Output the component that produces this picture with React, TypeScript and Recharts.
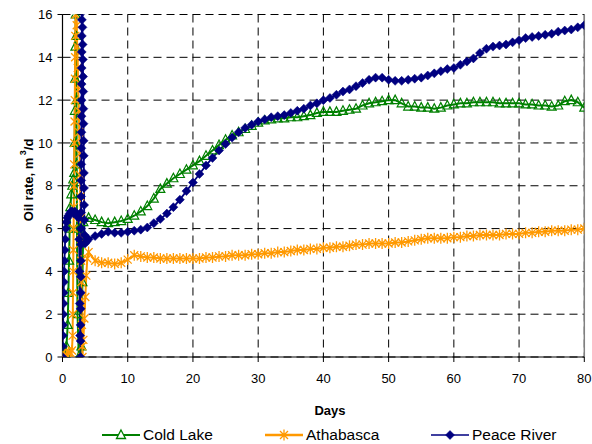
import React from "react";
import { LineChart, Line, XAxis, YAxis, CartesianGrid, Legend, ReferenceLine, Label } from "recharts";

// start-up part (first ~4 days)
const coldLakeEarlyDays = [0, 0.2, 0.4, 0.6, 0.8, 0.9, 1.0, 1.1, 1.2, 1.35, 1.5, 1.65, 1.8, 1.86, 1.9, 1.94, 1.98, 2.02, 2.06, 2.1, 2.14, 2.18, 2.22, 2.3, 2.5, 2.7, 2.9, 3.05, 3.2];
const coldLakeEarlyRates = [0, 0, 0.2, 0.5, 1.5, 3.0, 4.5, 6.0, 7.0, 7.6, 8.0, 8.3, 8.6, 10, 11.5, 13, 14.5, 16, 17.5, 15, 12, 9, 6, 2, 0, 0, 0.5, 3.5, 6.3];

const athabascaEarlyDays = [0, 0.3, 0.6, 0.9, 1.2, 1.45, 1.55, 1.58, 1.61, 1.64, 1.67, 1.7, 1.73, 1.76, 1.79, 1.82, 1.85, 1.88, 1.91, 1.94, 1.97, 2.0, 2.03, 2.1, 2.18, 2.26, 2.34, 2.42, 2.5, 2.56, 2.62, 2.68, 2.73, 2.78, 2.82, 2.86, 2.9, 2.94, 2.98, 3.02, 3.06, 3.2, 3.35, 3.5, 3.65, 3.8];
const athabascaEarlyRates = [0, 0.1, 0.1, 0.2, 0.2, 0.3, 1, 2, 3, 4, 5, 6, 7, 8, 9, 10, 11, 12, 13, 14, 15, 16, 17, 16.5, 15.5, 14.5, 13.5, 12.5, 11.5, 10.5, 9.5, 8.5, 7.5, 6.5, 5.5, 4.5, 3.5, 2.5, 1.5, 0.5, 0, 0.8, 1.8, 2.8, 3.8, 4.6];

const peaceRiverEarlyDays = [0, 0.03, 0.06, 0.09, 0.12, 0.15, 0.18, 0.21, 0.25, 0.3, 0.35, 0.42, 0.5, 0.6, 0.75, 0.9, 1.1, 1.3, 1.5, 1.7, 1.9, 2.1, 2.3, 2.45, 2.55, 2.6, 2.65, 2.7, 2.75,
  2.77, 2.78, 2.79, 2.8, 2.81, 2.82, 2.83, 2.84, 2.85, 2.86, 2.87, 2.88, 2.89, 2.9, 2.91, 2.92, 2.93, 2.94, 2.95, 2.96, 2.97, 2.98, 3.0,
  3.03, 3.06, 3.09, 3.12, 3.15, 3.18, 3.2, 3.22, 3.24, 3.26, 3.28, 3.3, 3.32, 3.34, 3.38, 3.45, 3.7];
const peaceRiverEarlyRates = [0, 0.5, 1, 1.5, 2, 2.5, 3, 3.5, 4, 4.5, 5, 5.5, 6, 6.3, 6.5, 6.6, 6.7, 6.8, 6.8, 6.7, 6.8, 6.7, 6.6, 6.5, 5.5, 4, 2.5, 1, 0,
  0.75, 1.5, 2.25, 3, 3.75, 4.5, 5.25, 6, 6.75, 7.5, 8.25, 9, 9.75, 10.5, 11.25, 12, 12.75, 13.5, 14.25, 15, 15.75, 16.5, 17.5,
  16.1, 15.4, 14.6, 13.9, 13.1, 12.4, 11.6, 10.9, 10.1, 9.4, 8.6, 7.9, 7.1, 6.4, 5.7, 5.3, 5.4];

// daily values, day 4 to day 80
const days = [4, 5, 6, 7, 8, 9, 10, 11, 12, 13, 14, 15, 16, 17, 18, 19, 20, 21, 22, 23, 24, 25, 26, 27, 28, 29, 30, 31, 32, 33,
  34, 35, 36, 37, 38, 39, 40, 41, 42, 43, 44, 45, 46, 47, 48, 49, 50, 51, 52, 53, 54, 55, 56, 57, 58, 59, 60, 61, 62, 63,
  64, 65, 66, 67, 68, 69, 70, 71, 72, 73, 74, 75, 76, 77, 78, 79, 80];

const coldLakeRates = [6.5, 6.4, 6.3, 6.25, 6.3, 6.35, 6.45, 6.6, 6.8, 7.05,
  7.4, 7.85, 8.1, 8.35, 8.55, 8.75, 8.95, 9.15, 9.4, 9.65,
  9.9, 10.15, 10.35, 10.5, 10.65, 10.8, 10.95, 11.05, 11.1, 11.15,
  11.15, 11.2, 11.2, 11.25, 11.3, 11.4, 11.45, 11.45, 11.45, 11.5,
  11.55, 11.6, 11.75, 11.85, 11.9, 11.95, 12.0, 12.0, 11.85, 11.7,
  11.7, 11.65, 11.65, 11.6, 11.65, 11.75, 11.8, 11.85, 11.85, 11.9,
  11.9, 11.9, 11.9, 11.85, 11.85, 11.85, 11.85, 11.8, 11.8, 11.75,
  11.75, 11.7, 11.75, 11.95, 12.0, 11.9, 11.65];

const athabascaRates = [4.9, 4.5, 4.4, 4.4, 4.35, 4.4, 4.55, 4.75, 4.7, 4.65,
  4.65, 4.6, 4.6, 4.6, 4.6, 4.6, 4.6, 4.6, 4.65, 4.65,
  4.7, 4.7, 4.75, 4.75, 4.75, 4.8, 4.8, 4.85, 4.85, 4.9,
  4.9, 4.95, 5.0, 5.0, 5.05, 5.05, 5.1, 5.1, 5.15, 5.15,
  5.2, 5.25, 5.25, 5.3, 5.3, 5.3, 5.3, 5.35, 5.35, 5.4,
  5.45, 5.5, 5.55, 5.55, 5.55, 5.55, 5.6, 5.6, 5.65, 5.65,
  5.7, 5.7, 5.7, 5.7, 5.75, 5.75, 5.75, 5.8, 5.8, 5.85,
  5.85, 5.9, 5.9, 5.9, 5.95, 5.95, 6.0];

const peaceRiverRates = [5.5, 5.65, 5.75, 5.85, 5.8, 5.8, 5.85, 5.9, 5.95, 6.05,
  6.25, 6.45, 6.7, 7.0, 7.35, 7.75, 8.15, 8.55, 8.95, 9.3,
  9.65, 9.95, 10.25, 10.5, 10.7, 10.85, 11.0, 11.1, 11.2, 11.25,
  11.3, 11.4, 11.5, 11.6, 11.75, 11.85, 12.0, 12.1, 12.25, 12.4,
  12.5, 12.65, 12.8, 12.95, 13.05, 13.05, 12.95, 12.9, 12.9, 12.95,
  13.0, 13.05, 13.15, 13.25, 13.35, 13.45, 13.5, 13.65, 13.8, 13.95,
  14.2, 14.4, 14.5, 14.55, 14.6, 14.7, 14.8, 14.9, 14.95, 15.0,
  15.05, 15.1, 15.2, 15.25, 15.3, 15.4, 15.5];

const xTicks = [0, 10, 20, 30, 40, 50, 60, 70, 80];
const yTicks = [0, 2, 4, 6, 8, 10, 12, 14, 16];

const GREEN = "#008000";
const ORANGE = "#FF9900";
const NAVY = "#000080";
const FONT = "'Liberation Sans', Arial, sans-serif";

const toPoints = (d: number[], r: number[]) => d.map((day, i) => ({ day, rate: r[i] }));

const coldLakeData = [...toPoints(coldLakeEarlyDays, coldLakeEarlyRates), ...toPoints(days, coldLakeRates)];
const athabascaData = [...toPoints(athabascaEarlyDays, athabascaEarlyRates), ...toPoints(days, athabascaRates)];
const peaceRiverData = [...toPoints(peaceRiverEarlyDays, peaceRiverEarlyRates), ...toPoints(days, peaceRiverRates)];

const trianglePath = (x: number, y: number) => `M${x},${y - 5}L${x + 4.5},${y + 3.5}L${x - 4.5},${y + 3.5}Z`;
const starPath = (x: number, y: number) =>
  `M${x - 4},${y - 4}L${x + 4},${y + 4}M${x + 4},${y - 4}L${x - 4},${y + 4}M${x},${y - 5.5}L${x},${y + 5.5}`;
const diamondPath = (x: number, y: number) => `M${x},${y - 4.5}L${x + 4.5},${y}L${x},${y + 4.5}L${x - 4.5},${y}Z`;

const renderTriangle = (props: any) => {
  const { cx, cy, index } = props;
  if (cx == null || cy == null) return <g key={`t-${index}`} />;
  return <path key={`t-${index}`} d={trianglePath(cx, cy)} fill="none" stroke={GREEN} strokeWidth={1.2} />;
};

const renderStar = (props: any) => {
  const { cx, cy, index } = props;
  if (cx == null || cy == null) return <g key={`s-${index}`} />;
  return <path key={`s-${index}`} d={starPath(cx, cy)} fill="none" stroke={ORANGE} strokeWidth={1.3} />;
};

const renderDiamond = (props: any) => {
  const { cx, cy, index } = props;
  if (cx == null || cy == null) return <g key={`d-${index}`} />;
  return <path key={`d-${index}`} d={diamondPath(cx, cy)} fill={NAVY} stroke={NAVY} strokeWidth={0.5} />;
};

const legendItems = [
  { name: "Cold Lake", color: GREEN, marker: trianglePath, filled: false, left: 102, width: 2.2 },
  { name: "Athabasca", color: ORANGE, marker: starPath, filled: false, left: 265, width: 2.6 },
  { name: "Peace River", color: NAVY, marker: diamondPath, filled: true, left: 431, width: 1.5 },
];

const renderLegend = () => (
  <div style={{ position: "relative", width: 592, height: 20, fontFamily: FONT, fontSize: 15.5, color: "#000" }}>
    {legendItems.map((item) => (
      <div key={item.name} style={{ position: "absolute", left: item.left, top: 0, height: 20, display: "flex", alignItems: "center" }}>
        <svg width={38} height={14} style={{ marginRight: 3 }}>
          <line x1={0} y1={7} x2={38} y2={7} stroke={item.color} strokeWidth={item.width} />
          <path
            d={item.marker(19, 7)}
            fill={item.filled ? item.color : "#fff"}
            stroke={item.color}
            strokeWidth={item.filled ? 0.5 : 1.3}
          />
        </svg>
        <span>{item.name}</span>
      </div>
    ))}
  </div>
);

export default function App() {
  return (
    <div style={{ position: "absolute", left: 0, top: 0, width: 592, height: 444, fontFamily: FONT, background: "#fff" }}>
      <LineChart width={592} height={444} margin={{ top: 14.5, right: 7.7, left: 0, bottom: 27 }} style={{ overflow: "visible" }}>
        <CartesianGrid stroke="#000" strokeDasharray="8 5" strokeWidth={1} />
        <XAxis
          type="number"
          dataKey="day"
          domain={[0, 80]}
          ticks={xTicks}
          allowDataOverflow
          height={60}
          tickSize={5}
          tickMargin={12}
          axisLine={{ stroke: "#000", strokeWidth: 1.2 }}
          tickLine={{ stroke: "#000" }}
          tick={{ fill: "#000", fontSize: 13, fontFamily: FONT }}
        >
          <Label
            content={() => (
              <text x={330} y={415} textAnchor="middle" fontFamily={FONT} fontSize={13} fontWeight="bold" fill="#000">
                Days
              </text>
            )}
          />
        </XAxis>
        <YAxis
          type="number"
          domain={[0, 16]}
          ticks={yTicks}
          allowDataOverflow
          width={62.5}
          tickSize={5}
          tickMargin={5}
          axisLine={{ stroke: "#000", strokeWidth: 1.2 }}
          tickLine={{ stroke: "#000" }}
          tick={{ fill: "#000", fontSize: 13, fontFamily: FONT }}
        >
          <Label
            content={() => (
              <text
                x={28}
                y={180}
                transform="rotate(-90 28 180)"
                textAnchor="middle"
                dominantBaseline="central"
                fontFamily={FONT}
                fontSize={13}
                fontWeight="bold"
                fill="#000"
              >
                Oil rate, m<tspan fontSize={9} dy={-5}> 3</tspan>
                <tspan dy={5}>/d</tspan>
              </text>
            )}
          />
        </YAxis>
        <ReferenceLine x={80} stroke="#808080" strokeWidth={1.5} />
        <Line
          data={coldLakeData}
          dataKey="rate"
          name="Cold Lake"
          stroke={GREEN}
          strokeWidth={2}
          dot={renderTriangle}
          activeDot={false}
          isAnimationActive={false}
        />
        <Line
          data={athabascaData}
          dataKey="rate"
          name="Athabasca"
          stroke={ORANGE}
          strokeWidth={2}
          dot={renderStar}
          activeDot={false}
          isAnimationActive={false}
        />
        <Line
          data={peaceRiverData}
          dataKey="rate"
          name="Peace River"
          stroke={NAVY}
          strokeWidth={1.8}
          dot={renderDiamond}
          activeDot={false}
          isAnimationActive={false}
        />
        <Legend
          layout="horizontal"
          verticalAlign="middle"
          align="center"
          content={renderLegend}
          wrapperStyle={{ top: 425, left: 0, width: 592, height: 20 }}
        />
      </LineChart>
    </div>
  );
}
